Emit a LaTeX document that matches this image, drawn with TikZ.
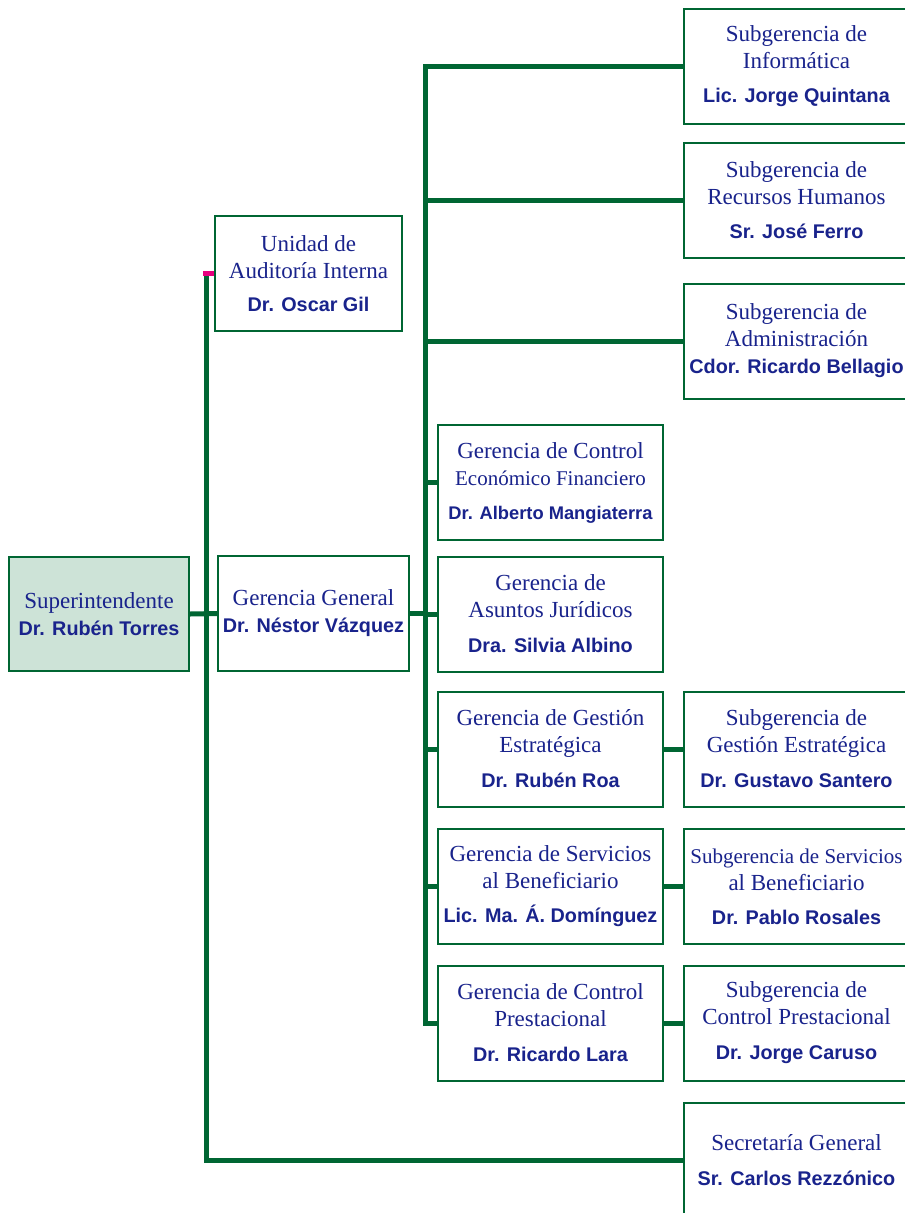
\documentclass[tikz,border=0pt]{standalone}
\usepackage{fontspec}
\setmainfont{Liberation Serif}
\newfontfamily\namefam{Liberation Sans}
\usetikzlibrary{positioning}
\definecolor{orggreen}{RGB}{0,102,51}
\definecolor{orgblue}{RGB}{25,35,140}
\definecolor{orgmint}{RGB}{205,227,215}
\definecolor{orgpink}{RGB}{230,0,126}
\newcommand\nm[1]{{\namefam\bfseries\fontsize{19.8}{27}\selectfont #1}}

\begin{document}
\begin{tikzpicture}
		[x=1pt,y=-1pt,
		box/.style={rectangle,draw=orggreen,line width=2pt,fill=white,text=orgblue,align=center,inner sep=2pt,minimum width=225pt,minimum height=115pt,font=\fontsize{23}{27}\selectfont},
		link/.style={draw=orggreen,line width=5pt,line join=miter}]
		\clip (0,0) rectangle (905,1213);
		\node[box,fill=orgmint,minimum width=180pt,minimum height=114pt] (r0) at (99,614) {Superintendente\\\nm{Dr. Rubén Torres}};
		\node[box,minimum width=191pt] (r1) at (313.5,613.5) {Gerencia General\\\nm{Dr. Néstor Vázquez}};
		\node[box,minimum width=187pt] (r2) at (308.5,273.5) {Unidad de\\Auditoría Interna\\[6pt]\nm{Dr. Oscar Gil}};
		\node[box] (r3) at (796.5,66.5) {Subgerencia de\\Informática\\[7pt]\nm{Lic. Jorge Quintana}};
		\node[box] (r4) at (796.5,200.5) {Subgerencia de\\Recursos Humanos\\[7pt]\nm{Sr. José Ferro}};
		\node[box] (r5) at (796.5,341) {Subgerencia de\\Administración\\\nm{Cdor. Ricardo Bellagio}};
		\node[box] (r6) at (550.5,482.5) {Gerencia de Control\\{\fontsize{21}{27}\selectfont Económico Financiero}\\[7pt]{\namefam\bfseries\fontsize{18.3}{27}\selectfont Dr. Alberto Mangiaterra}};
		\node[box] (r7) at (550.5,614) {Gerencia de\\Asuntos Jurídicos\\[8pt]\nm{Dra. Silvia Albino}};
		\node[box] (r8) at (550.5,749) {Gerencia de Gestión\\Estratégica\\[8pt]\nm{Dr. Rubén Roa}};
		\node[box] (r9) at (550.5,886.5) {Gerencia de Servicios\\al Beneficiario\\[7pt]\nm{Lic. Ma. Á. Domínguez}};
		\node[box] (r10) at (550.5,1023) {Gerencia de Control\\Prestacional\\[8pt]\nm{Dr. Ricardo Lara}};
		\node[box] (r11) at (796.5,749) {Subgerencia de\\Gestión Estratégica\\[8pt]\nm{Dr. Gustavo Santero}};
		\node[box] (r12) at (796.5,886.5) {{\fontsize{21}{27}\selectfont Subgerencia de Servicios}\\al Beneficiario\\[7pt]\nm{Dr. Pablo Rosales}};
		\node[box] (r13) at (796.5,1023) {Subgerencia de\\Control Prestacional\\[8pt]\nm{Dr. Jorge Caruso}};
		\node[box,minimum height=115pt] (r14) at (796.5,1160.5) {Secretaría General\\[8pt]\nm{Sr. Carlos Rezzónico}};
		
		\coordinate (s0) at (206,272);
		\coordinate (s1) at (425,67);
		
		\path[link] (r2.west -| s0) |- (r14.west);
		\path[link] (r0.east) -- (r1.west);
		\path[link] (r3.west) -| (r10.west -| s1) -- (r10.west);
		\path[link] (r4.west) -- (r4.west -| s1);
		\path[link] (r5.west) -- (r5.west -| s1);
		\path[link] (r1.east) -- (r1.east -| s1);
		\path[link] (r6.west) -- (r6.west -| s1);
		\path[link] (r7.west) -- (r7.west -| s1);
		\path[link] (r8.west) -- (r8.west -| s1);
		\path[link] (r9.west) -- (r9.west -| s1);
		\path[link] (r8) -- (r11);
		\path[link] (r9) -- (r12);
		\path[link] (r10) -- (r13);
		\path[link,draw=orgpink] ([xshift=-3pt]r2.west -| s0) -- (r2.west);
		
	\end{tikzpicture}
\end{document}
